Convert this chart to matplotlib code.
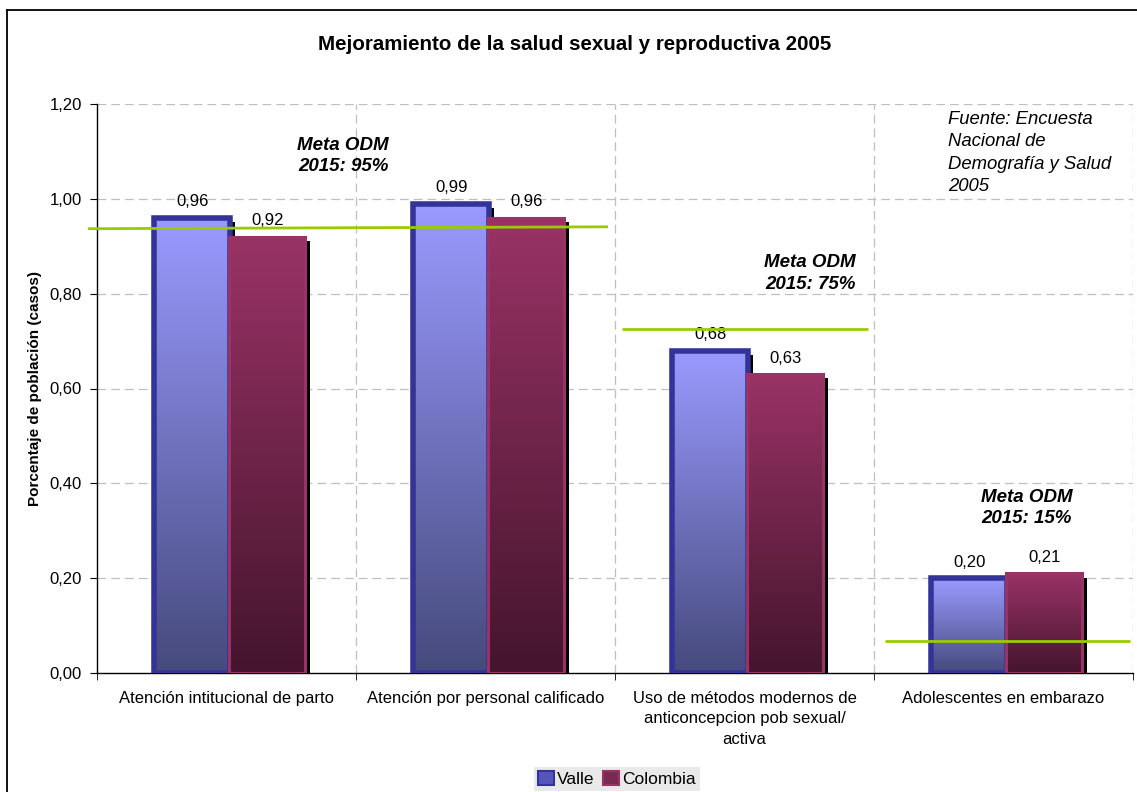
import numpy as np
import matplotlib
matplotlib.use("Agg")
import matplotlib.pyplot as plt
import matplotlib.patheffects as pe
from matplotlib.colors import LinearSegmentedColormap
from matplotlib.ticker import FuncFormatter, FixedLocator
from matplotlib.lines import Line2D
from matplotlib.patches import Patch

plt.rcParams['font.family'] = ['Liberation Sans', 'DejaVu Sans']

# ---------------- data ----------------
categories = ["Atención intitucional de parto",
              "Atención por personal calificado",
              "Uso de métodos modernos de\nanticoncepcion pob sexual/\nactiva",
              "Adolescentes en embarazo"]
series_names = ["Valle", "Colombia"]
valle = [0.96, 0.99, 0.68, 0.20]
colombia = [0.92, 0.96, 0.63, 0.21]
meta_texts = ["Meta ODM\n2015: 95%", "Meta ODM\n2015: 75%", "Meta ODM\n2015: 15%"]
meta_line_levels = [(0.937, 0.941), (0.726, 0.726), (0.0675, 0.0675)]
yticks = [0.0, 0.2, 0.4, 0.6, 0.8, 1.0, 1.2]
title = "Mejoramiento de la salud sexual y reproductiva 2005"
ylabel = "Porcentaje de población (casos)"
source = "Fuente: Encuesta\nNacional de\nDemografía y Salud\n2005"

# ---------------- figure ----------------
fig = plt.figure(figsize=(11.37, 7.92), dpi=100)
ax = fig.add_axes([97/1137, 1-673/792, (1133-97)/1137, (673-104)/792])

x = np.arange(len(categories))
w = 0.295
x_valle = x - 0.28 + w/2
x_col = x + 0.01 + w/2

styles = {
    "Valle": dict(top="#9A9AFF", bottom="#464A7C", edge="#333399", lw=4.0),
    "Colombia": dict(top="#993366", bottom="#44152C", edge="#993366", lw=2.2),
}

def draw_series(xs, vals, st, z):
    cmap = LinearSegmentedColormap.from_list("g", [st["bottom"], st["top"]])
    bars = ax.bar(xs, vals, w, color=st["top"], edgecolor="none", zorder=z,
                  path_effects=[pe.SimplePatchShadow(offset=(3.0, -3), shadow_rgbFace="black", alpha=1.0),
                                pe.Normal()])
    for b in bars:
        x0, y0 = b.get_x(), b.get_y()
        h = b.get_height()
        grad = np.linspace(0, 1, 256).reshape(-1, 1)
        im = ax.imshow(grad, cmap=cmap, origin="lower", aspect="auto",
                       extent=[x0, x0 + b.get_width(), y0, y0 + h], zorder=z + 0.1)
        im.set_clip_path(b)
    ax.bar(xs, vals, w, facecolor="none", edgecolor=st["edge"], linewidth=st["lw"], zorder=z + 0.2)
    for xi, v in zip(xs, vals):
        ax.annotate(f"{v:.2f}".replace(".", ","), (xi, v), xytext=(0, 6), textcoords="offset points",
                    ha="center", va="bottom", fontsize=12)

draw_series(x_valle, valle, styles["Valle"], 3)
draw_series(x_col, colombia, styles["Colombia"], 4)

ax.set_xlim(-0.5, len(categories) - 0.5)
ax.set_ylim(0, 1.2)

# grid
for yv in yticks[1:]:
    ax.axhline(yv, color="#BFBFBF", lw=0.9, dashes=(7, 4), zorder=1)
for xb in np.arange(0.5, len(categories), 1.0):
    ax.axvline(xb, color="#BFBFBF", lw=0.9, dashes=(7, 4), zorder=1)

for s in ["top", "right"]:
    ax.spines[s].set_visible(False)
ax.spines["left"].set_linewidth(1.0)
ax.spines["bottom"].set_linewidth(1.0)

ax.yaxis.set_major_locator(FixedLocator(yticks))
ax.yaxis.set_major_formatter(FuncFormatter(lambda v, p: f"{v:.2f}".replace(".", ",")))
ax.tick_params(axis="y", direction="out", length=5, labelsize=12, pad=6)

ax.set_xticks(x)
ax.set_xticklabels(categories, fontsize=12, va="top", ha="center", linespacing=1.45)
ax.tick_params(axis="x", which="major", length=0, pad=13)
ax.set_xticks(np.arange(-0.5, len(categories) + 0.5, 1.0), minor=True)
ax.tick_params(axis="x", which="minor", direction="out", length=5)

ax.set_ylabel(ylabel, fontsize=11, fontweight="bold", labelpad=5)

# meta lines (drawn shapes)
line_spans = [(-0.535, 1.473), (1.527, 2.477), (2.542, 3.488)]
for (x0, x1), (y0, y1) in zip(line_spans, meta_line_levels):
    ax.plot([x0, x1], [y0, y1], color="#99CC00", lw=2.0, zorder=6, clip_on=False, solid_capstyle="butt")

meta_pos = [(0.45, 1.09), (2.253, 0.843), (3.09, 0.348)]
for (mx, my), t in zip(meta_pos, meta_texts):
    ax.text(mx, my, t, ha="center", va="center", fontsize=13.5, fontweight="bold",
            fontstyle="italic", linespacing=1.35, zorder=7)

ax.text((948-97)/259 - 0.5, 1.185, source, ha="left", va="top", fontsize=13.3,
        fontstyle="italic", linespacing=1.4, zorder=7)

fig.text(575/1137, 1-45/792, title, ha="center", va="center", fontsize=14.8, fontweight="bold")

# legend
handles = [Patch(facecolor="#5555BB", edgecolor="#333399", lw=1.5),
           Patch(facecolor="#7A2A52", edgecolor="#993366", lw=1.5)]
leg = fig.legend(handles, series_names, loc="center", bbox_to_anchor=(617/1137, 1-779/792),
                 ncol=2, frameon=True, fontsize=12.5, handlelength=0.9, handleheight=0.9,
                 handletextpad=0.2, columnspacing=0.5, borderpad=0.25, fancybox=False)
leg.get_frame().set_facecolor("#E4E4E4")
leg.get_frame().set_edgecolor("none")

# figure border
fig.add_artist(Line2D([7/1137, 7/1137], [0, 1-10/792], color="black", lw=1.3, transform=fig.transFigure))
fig.add_artist(Line2D([7/1137, 1], [1-10/792, 1-10/792], color="black", lw=1.3, transform=fig.transFigure))

fig.savefig("out.png", dpi=100)
